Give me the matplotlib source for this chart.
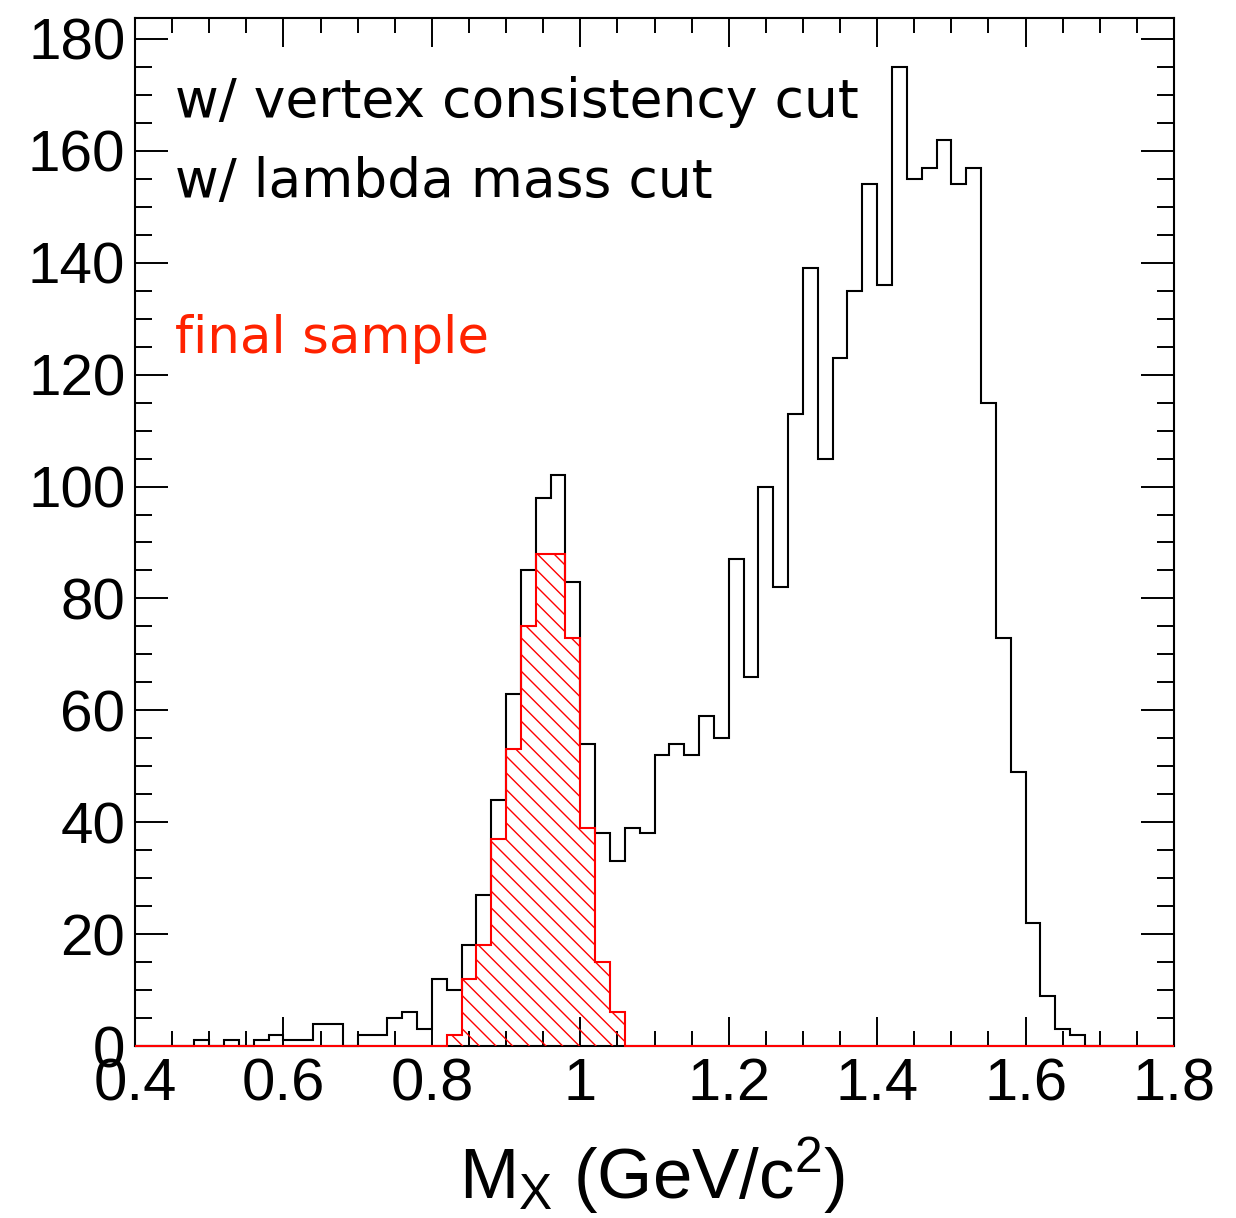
import numpy as np
import matplotlib
matplotlib.use('Agg')
import matplotlib.pyplot as plt
from matplotlib.ticker import MultipleLocator, FuncFormatter

# M_X spectrum, 70 bins between 0.4 and 1.8 GeV/c^2
x_lo, x_hi, n_bins = 0.4, 1.8, 70

counts_all = [0, 0, 0, 0, 1, 0, 1, 0, 1, 2,
              1, 1, 4, 4, 0, 2, 2, 5, 6, 3,
              12, 10, 18, 27, 44, 63, 85, 98, 102, 83,
              54, 38, 33, 39, 38, 52, 54, 52, 59, 55,
              87, 66, 100, 82, 113, 139, 105, 123, 135, 154,
              136, 175, 155, 157, 162, 154, 157, 115, 73, 49,
              22, 9, 3, 2, 0, 0, 0, 0, 0, 0]

counts_final = [0, 0, 0, 0, 0, 0, 0, 0, 0, 0,
                0, 0, 0, 0, 0, 0, 0, 0, 0, 0,
                0, 2, 12, 18, 37, 53, 75, 88, 88, 73,
                39, 15, 6, 0, 0, 0, 0, 0, 0, 0,
                0, 0, 0, 0, 0, 0, 0, 0, 0, 0,
                0, 0, 0, 0, 0, 0, 0, 0, 0, 0,
                0, 0, 0, 0, 0, 0, 0, 0, 0, 0]

label_lines = ['w/ vertex consistency cut', 'w/ lambda mass cut']
label_final = 'final sample'

plt.rcParams['font.family'] = ['Liberation Sans', 'DejaVu Sans']
plt.rcParams['mathtext.default'] = 'regular'
plt.rcParams['hatch.linewidth'] = 1.0

edges = np.linspace(x_lo, x_hi, n_bins + 1)

fig = plt.figure(figsize=(12.36, 12.18), dpi=100)
ax = fig.add_axes([135 / 1236, 1 - 1046 / 1218, 1039 / 1236, 1028 / 1218])

ax.stairs(counts_all, edges, color='black', linewidth=1.5, zorder=2, clip_on=False)
ax.stairs(counts_final, edges, fill=True, facecolor='none', edgecolor='red',
          hatch='\\\\', linewidth=1.5, zorder=3, clip_on=False)

ax.set_xlim(x_lo, x_hi)
ax.set_ylim(0, 183.75)

ax.xaxis.set_major_locator(MultipleLocator(0.2))
ax.xaxis.set_minor_locator(MultipleLocator(0.05))
ax.yaxis.set_major_locator(MultipleLocator(20))
ax.yaxis.set_minor_locator(MultipleLocator(5))
ax.xaxis.set_major_formatter(FuncFormatter(lambda v, p: '%g' % round(v, 3)))

ax.tick_params(which='both', direction='in', top=True, right=True, width=1.4)
ax.tick_params(axis='y', which='major', length=24, labelsize=42, pad=7)
ax.tick_params(axis='y', which='minor', length=12)
ax.tick_params(axis='x', which='major', length=21, labelsize=43, pad=8)
ax.tick_params(axis='x', which='minor', length=11)
for s in ax.spines.values():
    s.set_linewidth(1.5)

fig.text(652 / 1236, 1 - 1198 / 1218, r'M$_X$ (GeV/c$^2$)', fontsize=51,
         ha='center', va='baseline')

fig.text(175 / 1236, 1 - 117 / 1218, label_lines[0], fontsize=38.5,
         family='DejaVu Sans', va='baseline')
fig.text(175 / 1236, 1 - 197 / 1218, label_lines[1], fontsize=38.5,
         family='DejaVu Sans', va='baseline')
fig.text(175 / 1236, 1 - 353 / 1218, label_final, fontsize=37, color='#ff2200',
         family='DejaVu Sans', va='baseline')

fig.savefig('out.png', dpi=100)
